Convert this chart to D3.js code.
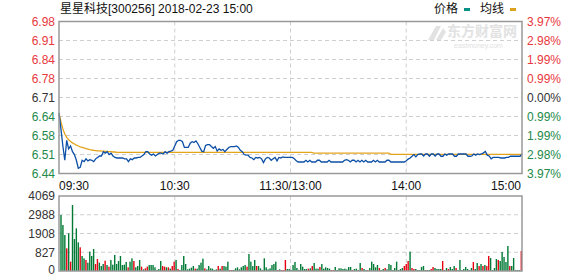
<!DOCTYPE html>
<html><head><meta charset="utf-8">
<script src="https://cdn.jsdelivr.net/npm/d3@7/dist/d3.min.js"></script>
<style>
html,body{margin:0;padding:0;background:#fff;}
svg{display:block;font-family:"Liberation Sans",Arial,"Noto Sans CJK SC",sans-serif;}
</style></head>
<body><svg id="c" width="578" height="276"></svg>
<script>
// ---------- data ----------
const title = "星星科技[300256] 2018-02-23 15:00";
const legendNames = ["价格", "均线"];
const prevClose = 6.71;
const rangePct = 0.0397;
const priceTickLabels = ["6.98","6.91","6.84","6.78","6.71","6.64","6.58","6.51","6.44"];
const pctTickLabels = ["3.97%","2.98%","1.99%","0.99%","0.00%","0.99%","1.99%","2.98%","3.97%"];
const timeLabels = ["09:30","10:30","11:30/13:00","14:00","15:00"];
const timeIndex = [0, 60, 120, 180, 240];
const volTickLabels = ["4069","2988","1908","827","0"];
const volMax = 4069;

const price = [
6.655,6.600,6.540,6.490,6.560,6.530,6.540,6.520,6.510,6.490,
6.462,6.465,6.490,6.485,6.495,6.488,6.492,6.490,6.485,6.495,
6.500,6.505,6.505,6.520,6.515,6.520,6.510,6.515,6.505,6.500,
6.498,6.498,6.498,6.498,6.495,6.495,6.485,6.495,6.492,6.498,
6.498,6.500,6.500,6.505,6.510,6.520,6.520,6.512,6.508,6.512,
6.505,6.510,6.515,6.515,6.512,6.520,6.515,6.520,6.522,6.525,
6.540,6.555,6.560,6.560,6.555,6.535,6.535,6.535,6.550,6.555,
6.552,6.558,6.548,6.535,6.522,6.520,6.542,6.545,6.545,6.538,
6.532,6.538,6.522,6.530,6.525,6.528,6.520,6.528,6.535,6.538,
6.538,6.538,6.540,6.535,6.525,6.520,6.510,6.508,6.508,6.500,
6.498,6.492,6.500,6.498,6.500,6.495,6.482,6.495,6.500,6.498,
6.490,6.495,6.500,6.488,6.500,6.498,6.502,6.500,6.500,6.500,
6.500,6.500,6.495,6.488,6.484,6.484,6.484,6.484,6.490,6.484,
6.490,6.484,6.484,6.484,6.490,6.490,6.484,6.484,6.484,6.484,
6.490,6.484,6.484,6.484,6.484,6.484,6.484,6.484,6.490,6.492,
6.490,6.484,6.490,6.490,6.484,6.490,6.484,6.490,6.484,6.490,
6.484,6.484,6.484,6.490,6.484,6.490,6.484,6.484,6.484,6.484,
6.490,6.490,6.484,6.484,6.484,6.484,6.484,6.484,6.484,6.484,
6.488,6.494,6.498,6.504,6.510,6.502,6.510,6.512,6.512,6.505,
6.512,6.512,6.504,6.512,6.512,6.505,6.512,6.512,6.504,6.504,
6.512,6.508,6.512,6.512,6.512,6.504,6.504,6.512,6.512,6.512,
6.512,6.512,6.504,6.504,6.505,6.512,6.508,6.512,6.510,6.512,
6.516,6.521,6.508,6.505,6.495,6.500,6.500,6.500,6.500,6.498,
6.498,6.498,6.500,6.500,6.504,6.504,6.504,6.504,6.504,6.504,
6.512
];

const avgPrice = [
6.655,6.625,6.600,6.582,6.570,6.562,6.556,6.551,6.547,6.543,
6.540,6.537,6.535,6.533,6.531,6.529,6.527,6.526,6.525,6.524,
6.523,6.523,6.522,6.522,6.521,6.521,6.520,6.520,6.519,6.519,
6.518,6.518,6.518,6.518,6.518,6.518,6.518,6.518,6.518,6.518,
6.518,6.518,6.518,6.518,6.518,6.518,6.518,6.518,6.518,6.518,
6.518,6.518,6.518,6.518,6.518,6.518,6.518,6.518,6.518,6.518,
6.518,6.518,6.518,6.518,6.518,6.518,6.518,6.518,6.518,6.518,
6.518,6.518,6.518,6.518,6.518,6.518,6.518,6.518,6.518,6.518,
6.518,6.518,6.518,6.518,6.518,6.518,6.518,6.518,6.518,6.518,
6.518,6.518,6.518,6.518,6.518,6.518,6.518,6.518,6.518,6.518,
6.518,6.518,6.518,6.518,6.518,6.518,6.518,6.518,6.518,6.518,
6.518,6.518,6.518,6.518,6.518,6.518,6.518,6.518,6.518,6.518,
6.518,6.518,6.518,6.518,6.518,6.518,6.518,6.518,6.518,6.518,
6.518,6.518,6.515,6.515,6.515,6.515,6.515,6.515,6.515,6.515,
6.515,6.515,6.515,6.515,6.515,6.515,6.515,6.515,6.515,6.515,
6.515,6.515,6.515,6.515,6.515,6.515,6.515,6.515,6.515,6.515,
6.515,6.515,6.515,6.515,6.515,6.515,6.515,6.515,6.515,6.515,
6.515,6.515,6.511,6.511,6.511,6.511,6.511,6.511,6.511,6.511,
6.511,6.511,6.511,6.511,6.511,6.511,6.511,6.511,6.511,6.511,
6.511,6.511,6.511,6.511,6.511,6.511,6.511,6.511,6.511,6.511,
6.511,6.511,6.511,6.511,6.511,6.511,6.511,6.511,6.511,6.511,
6.511,6.511,6.511,6.511,6.511,6.511,6.511,6.511,6.511,6.511,
6.511,6.511,6.511,6.511,6.511,6.511,6.511,6.511,6.511,6.511,
6.511,6.511,6.511,6.511,6.511,6.511,6.511,6.511,6.511,6.511,
6.511
];

const volume = [
3037,2495,1953,1229,2043,506,3580,1736,2314,1555,
1284,814,687,597,452,1049,814,1193,380,651,
452,271,380,560,325,235,597,343,868,380,
542,814,325,343,488,199,506,687,542,199,
271,597,235,90,145,235,325,325,325,199,
60,108,542,271,235,199,199,127,271,506,
597,108,54,325,814,380,90,127,181,271,
127,127,325,452,669,145,90,271,145,127,
54,90,271,127,271,271,235,506,54,54,
54,145,199,90,199,271,325,235,922,506,
271,597,271,271,145,60,687,199,90,145,
325,380,506,54,90,54,54,
597,108,108,60,325,488,163,60,380,235,
108,108,127,145,271,434,127,127,217,380,
127,199,163,127,54,54,217,54,145,145,
108,127,90,217,217,54,108,127,54,434,
163,108,54,54,163,506,380,199,325,163,
54,108,163,90,380,325,54,163,506,54,
108,163,271,380,542,1049,163,108,108,54,
54,217,271,54,54,54,108,217,163,108,
108,108,542,54,163,108,217,108,271,163,
54,597,54,108,217,108,54,163,488,108,
434,271,380,271,325,271,814,705,54,163,
651,597,542,1031,759,488,1356,271,271,705,
54,54,54,1085
];
// minutes whose volume bar is red (price up); all others are green
const upBars = [3,5,10,13,18,19,23,25,35,38,42,44,45,53,54,56,58,59,61,70,75,82,84,88,89,97,102,113,115,116,
117,129,131,135,141,142,152,157,160,166,169,179,180,181,183,184,193,194,199,202,206,215,218,220,222,223,228,234,240];

// ---------- layout ----------
const svg = d3.select("#c");
const L = 59, R = 522, PT = 21.5, PB = 173.5, VT = 196, VB = 271;
const red = "#e8383d", green = "#23894a", dark = "#333333";
const gridCol = "#cfcfcf", frameCol = "#999999";

const x = d3.scaleLinear().domain([0, 240]).range([L, R]);
const xv = d3.scaleLinear().domain([0, 240]).range([61, 521.3]);
const y = d3.scaleLinear().domain([prevClose*(1-rangePct), prevClose*(1+rangePct)]).range([PB, PT]);
const yv = d3.scaleLinear().domain([0, volMax]).range([VB, VT]);

const nT = priceTickLabels.length - 1;
const tickVal = k => y.domain()[1] - (y.domain()[1]-y.domain()[0]) * k / nT;
const vTickVal = k => volMax - volMax * k / (volTickLabels.length - 1);

// watermark
const wm = svg.append("g").attr("fill", "#e2e2e2");
wm.append("path").attr("d", "M428,40 L436,26 L441,26 L434,40 Z M436,40 L443,28 L446,32 L441,40 Z");
wm.append("text").attr("x", 447).attr("y", 36).attr("font-size", 14).attr("font-weight", "bold")
  .attr("font-family", "'Noto Sans CJK SC',sans-serif").text("东方财富网");
wm.append("text").attr("x", 454).attr("y", 48).attr("font-size", 7).text("eastmoney.com");

// grids - price
const g = svg.append("g");
d3.range(1, nT).forEach(k => {
  g.append("line").attr("x1", L).attr("x2", R).attr("y1", y(tickVal(k))).attr("y2", y(tickVal(k)))
   .attr("stroke", gridCol).attr("stroke-dasharray", "4,3");
});
timeIndex.slice(1, -1).forEach(t => {
  g.append("line").attr("x1", x(t)).attr("x2", x(t)).attr("y1", PT).attr("y2", PB)
   .attr("stroke", gridCol).attr("stroke-dasharray", "4,3");
  g.append("line").attr("x1", x(t)).attr("x2", x(t)).attr("y1", VT).attr("y2", VB)
   .attr("stroke", gridCol).attr("stroke-dasharray", "4,3");
});
// grids - volume
d3.range(1, volTickLabels.length - 1).forEach(k => {
  g.append("line").attr("x1", L).attr("x2", R).attr("y1", yv(vTickVal(k))).attr("y2", yv(vTickVal(k)))
   .attr("stroke", gridCol).attr("stroke-dasharray", "4,3");
});

// volume bars
const upSet = new Set(upBars);
svg.append("g").selectAll("rect").data(volume).join("rect")
  .attr("x", (d, i) => xv(i) - 0.7).attr("width", 1.4)
  .attr("y", d => yv(d)).attr("height", d => VB - yv(d))
  .attr("fill", (d, i) => upSet.has(i) ? "#e60012" : "#007a35");

// lines
svg.append("path").datum(avgPrice)
  .attr("d", d3.line().x((d, i) => x(i)).y(d => y(d)))
  .attr("fill", "none").attr("stroke", "#e3a41c").attr("stroke-width", 1.3);
svg.append("path").datum(price)
  .attr("d", d3.line().x((d, i) => x(i)).y(d => y(d)))
  .attr("fill", "none").attr("stroke", "#0c4fa6").attr("stroke-width", 1.3);

// frames
svg.append("rect").attr("x", L).attr("y", PT).attr("width", R - L).attr("height", PB - PT)
  .attr("fill", "none").attr("stroke", frameCol).attr("stroke-width", 1.5);
svg.append("rect").attr("x", L).attr("y", VT).attr("width", R - L).attr("height", VB - VT)
  .attr("fill", "none").attr("stroke", frameCol).attr("stroke-width", 1.5);

// price labels
const colFor = k => k < nT/2 ? red : (k === nT/2 ? dark : green);
priceTickLabels.forEach((t, k) => {
  svg.append("text").attr("x", 55).attr("y", y(tickVal(k))).attr("dy", "0.36em")
    .attr("text-anchor", "end").attr("font-size", 12).attr("fill", colFor(k)).text(t);
});
pctTickLabels.forEach((t, k) => {
  svg.append("text").attr("x", 527).attr("y", y(tickVal(k))).attr("dy", "0.36em")
    .attr("text-anchor", "start").attr("font-size", 12).attr("fill", colFor(k)).text(t);
});
volTickLabels.forEach((t, k) => {
  const last = k === volTickLabels.length - 1;
  svg.append("text").attr("x", 55).attr("y", yv(vTickVal(k)) - (last ? 1.5 : 0)).attr("dy", "0.36em")
    .attr("text-anchor", "end").attr("font-size", 12).attr("fill", dark).text(t);
});
// time labels
timeLabels.forEach((t, k) => {
  const anchor = k === 0 ? "start" : (k === timeLabels.length - 1 ? "end" : "middle");
  const xx = k === 0 ? L : (k === timeLabels.length - 1 ? R - 1 : x(timeIndex[k]));
  svg.append("text").attr("x", xx).attr("y", 190).attr("text-anchor", anchor)
    .attr("font-size", 12).attr("fill", "#111").text(t);
});

// title & legend
svg.append("text").attr("x", 60).attr("y", 13).attr("font-size", 12).attr("fill", "#111").text(title);
svg.append("text").attr("x", 434).attr("y", 13).attr("font-size", 12).attr("fill", "#111")
  .attr("font-family", "'Noto Sans CJK SC',sans-serif").text(legendNames[0]);
svg.append("rect").attr("x", 464).attr("y", 8).attr("width", 6).attr("height", 3).attr("fill", "#079184");
svg.append("text").attr("x", 480).attr("y", 13).attr("font-size", 12).attr("fill", "#111")
  .attr("font-family", "'Noto Sans CJK SC',sans-serif").text(legendNames[1]);
svg.append("rect").attr("x", 510).attr("y", 8).attr("width", 6).attr("height", 3).attr("fill", "#dba21d");
</script>
</body></html>
